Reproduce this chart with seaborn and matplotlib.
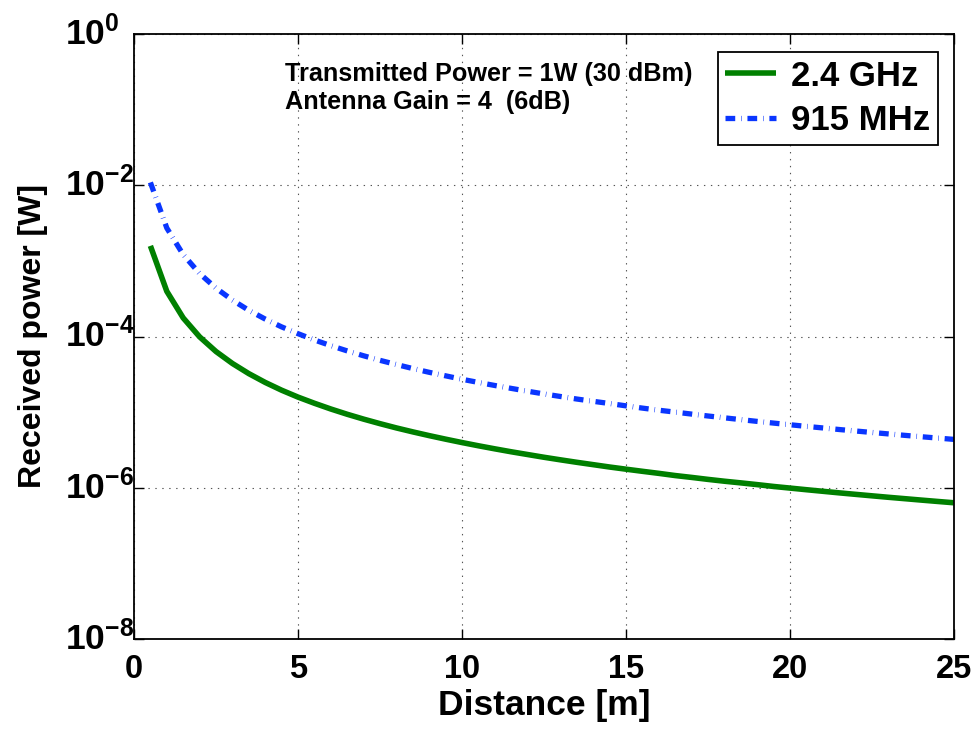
import numpy as np
import pandas as pd
import matplotlib
matplotlib.use("Agg")
import matplotlib.pyplot as plt
import matplotlib.transforms as mtransforms
import seaborn as sns

# ---- data ----
distance_m = [0.5, 1, 1.5, 2, 2.5, 3, 3.5, 4, 4.5, 5, 5.5, 6, 6.5, 7, 7.5, 8, 8.5, 9, 9.5, 10,
              10.5, 11, 11.5, 12, 12.5, 13, 13.5, 14, 14.5, 15, 15.5, 16, 16.5, 17, 17.5, 18,
              18.5, 19, 19.5, 20, 20.5, 21, 21.5, 22, 22.5, 23, 23.5, 24, 24.5, 25]

power_24ghz = [1.58e-3, 3.96e-4, 1.76e-4, 9.90e-5, 6.33e-5, 4.40e-5, 3.23e-5, 2.47e-5, 1.95e-5, 1.58e-5,
               1.31e-5, 1.10e-5, 9.37e-6, 8.08e-6, 7.04e-6, 6.18e-6, 5.48e-6, 4.89e-6, 4.39e-6, 3.96e-6,
               3.59e-6, 3.27e-6, 2.99e-6, 2.75e-6, 2.53e-6, 2.34e-6, 2.17e-6, 2.02e-6, 1.88e-6, 1.76e-6,
               1.65e-6, 1.55e-6, 1.45e-6, 1.37e-6, 1.29e-6, 1.22e-6, 1.16e-6, 1.10e-6, 1.04e-6, 9.90e-7,
               9.42e-7, 8.98e-7, 8.56e-7, 8.18e-7, 7.82e-7, 7.48e-7, 7.17e-7, 6.87e-7, 6.59e-7, 6.33e-7]

power_915mhz = [1.09e-2, 2.72e-3, 1.21e-3, 6.81e-4, 4.36e-4, 3.03e-4, 2.22e-4, 1.70e-4, 1.34e-4, 1.09e-4,
                9.00e-5, 7.57e-5, 6.45e-5, 5.56e-5, 4.84e-5, 4.26e-5, 3.77e-5, 3.36e-5, 3.02e-5, 2.72e-5,
                2.47e-5, 2.25e-5, 2.06e-5, 1.89e-5, 1.74e-5, 1.61e-5, 1.49e-5, 1.39e-5, 1.30e-5, 1.21e-5,
                1.13e-5, 1.06e-5, 1.00e-5, 9.42e-6, 8.89e-6, 8.41e-6, 7.96e-6, 7.54e-6, 7.16e-6, 6.81e-6,
                6.48e-6, 6.18e-6, 5.89e-6, 5.63e-6, 5.38e-6, 5.15e-6, 4.93e-6, 4.73e-6, 4.54e-6, 4.36e-6]

series_labels = ["2.4 GHz", "915 MHz"]
x_ticks = [0, 5, 10, 15, 20, 25]
x_tick_labels = ["0", "5", "10", "15", "20", "25"]
y_ticks = [1e-8, 1e-6, 1e-4, 1e-2, 1e0]
y_tick_labels = [r"$\mathbf{10^{-8}}$", r"$\mathbf{10^{-6}}$", r"$\mathbf{10^{-4}}$",
                 r"$\mathbf{10^{-2}}$", r"$\mathbf{10^{0}}$"]
annotation_lines = ["Transmitted Power = 1W (30 dBm)", "Antenna Gain = 4  (6dB)"]

# ---- style ----
sns.set_style("ticks")
plt.rcParams["font.family"] = ["Liberation Sans", "DejaVu Sans"]
plt.rcParams["font.weight"] = "bold"
plt.rcParams["text.color"] = "black"
plt.rcParams["axes.labelcolor"] = "black"
plt.rcParams["mathtext.fontset"] = "custom"
plt.rcParams["mathtext.rm"] = "Liberation Sans:bold"
plt.rcParams["mathtext.bf"] = "Liberation Sans:bold"
plt.rcParams["mathtext.it"] = "Liberation Sans:bold"
plt.rcParams["lines.scale_dashes"] = False
plt.rcParams["axes.unicode_minus"] = True

DPI = 100
fig = plt.figure(figsize=(978 / DPI, 731 / DPI), dpi=DPI)
ax = fig.add_axes([134 / 978, 1 - 639 / 731, (954 - 134) / 978, (639 - 34) / 731])

df = pd.DataFrame({
    "Distance": distance_m * 2,
    "Power": power_24ghz + power_915mhz,
    "Band": [series_labels[0]] * len(distance_m) + [series_labels[1]] * len(distance_m),
})

sns.lineplot(data=df[df["Band"] == series_labels[0]], x="Distance", y="Power",
             color="#008000", linewidth=4.0, label=series_labels[0], ax=ax)
sns.lineplot(data=df[df["Band"] == series_labels[1]], x="Distance", y="Power",
             color="#0A36FF", linewidth=3.8, label=series_labels[1], ax=ax)
ax.lines[1].set_dashes((7.0, 4.2, 0.4, 4.2))
ax.lines[1].set_dash_capstyle("butt")
ax.lines[0].set_solid_capstyle("butt")

ax.set_yscale("log")
ax.set_xlim(0, 25)
ax.set_ylim(1e-8, 1e0)
ax.set_xticks(x_ticks)
ax.set_xticklabels(x_tick_labels)
ax.set_yticks(y_ticks)
ax.set_yticklabels(y_tick_labels)
ax.minorticks_off()
ax.yaxis.set_minor_locator(matplotlib.ticker.NullLocator())

ax.tick_params(axis="both", which="major", direction="in", length=7, width=1.0,
               top=True, right=True, colors="black")
ax.tick_params(axis="x", pad=11, labelsize=23.5)
ax.tick_params(axis="y", pad=50, labelsize=25.5)
for lab in ax.get_xticklabels() + ax.get_yticklabels():
    lab.set_fontweight("bold")
shift_up = mtransforms.ScaledTranslation(0, 4 / DPI, fig.dpi_scale_trans)
for lab in ax.get_yticklabels():
    lab.set_horizontalalignment("left")
    lab.set_transform(lab.get_transform() + shift_up)

for sp in ax.spines.values():
    sp.set_visible(True)
    sp.set_linewidth(1.3)
    sp.set_color("black")

ax.grid(True, which="major", color="#555555", linestyle=(0, (1, 4)), linewidth=0.8)

ax.set_xlabel("Distance [m]", fontsize=25.5, fontweight="bold", labelpad=3, color="black")
ax.set_ylabel("Received power [W]", fontsize=23, fontweight="bold", color="black")
ax.yaxis.set_label_coords(-(134 - 48) / 820, 0.5)

leg = ax.legend(loc="upper right", bbox_to_anchor=((938 - 134) / 820, 1 - (52 - 34) / 605),
                borderaxespad=0, fancybox=False, frameon=True, edgecolor="black",
                handlelength=1.47, handletextpad=0.43, borderpad=0.22,
                labelspacing=0.33, prop={"weight": "bold", "size": 25})
leg.get_frame().set_linewidth(1.3)
leg.get_frame().set_alpha(1)
for t in leg.get_texts():
    t.set_color("black")

fig.text(285 / 978, 1 - 74 / 731, annotation_lines[0], fontsize=18.2, fontweight="bold",
         ha="left", va="center", color="black")
fig.text(285 / 978, 1 - 102 / 731, annotation_lines[1], fontsize=18.2, fontweight="bold",
         ha="left", va="center", color="black")

fig.savefig("out.png", dpi=DPI, facecolor="white")
